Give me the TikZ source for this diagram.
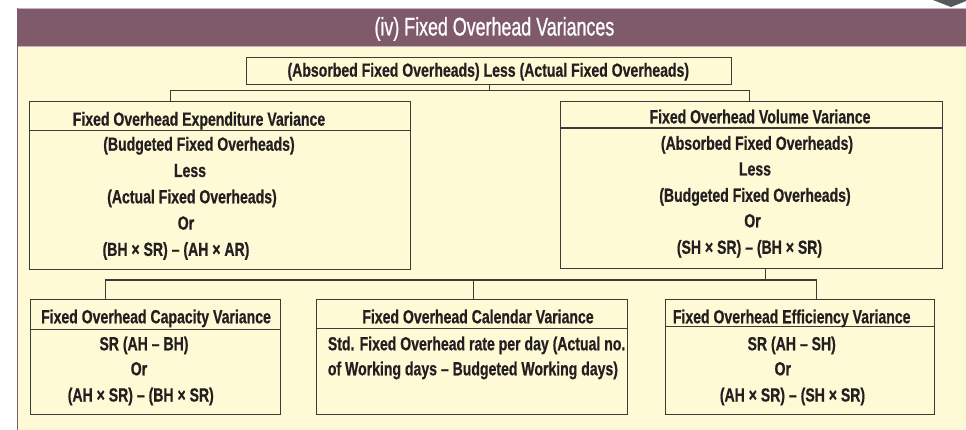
\documentclass[tikz,border=0pt]{standalone}
\usepackage{fontspec}
\newfontfamily\bodyfont{Liberation Sans Bold}[FakeStretch=0.74, FakeBold=0.6]
\newfontfamily\headfont{Liberation Sans}[FakeStretch=0.70, FakeBold=0.8]
\definecolor{headc}{HTML}{7F5A6B}
\definecolor{headedge}{HTML}{C9B0BC}
\definecolor{bgc}{HTML}{FFFAD6}
\definecolor{linec}{HTML}{3D3B37}
\definecolor{textc}{HTML}{231F20}
\definecolor{tabc}{HTML}{58585A}
\tikzset{
  box/.style={draw=linec, line width=1.1pt, rectangle, inner sep=0pt, anchor=north west},
  divider/.style={draw=linec, line width=1.1pt},
  conn/.style={draw=linec, line width=1.1pt},
  txt/.style={font=\bodyfont\fontsize{19}{22}\selectfont, text=textc, inner sep=0pt, anchor=base},
  ltxt/.style={txt, anchor=base west},
  headtxt/.style={font=\headfont\fontsize{25.5}{28}\selectfont, text=white, inner sep=0pt, anchor=base}
}
\begin{document}
\begin{tikzpicture}[x=1pt,y=-1pt]
\useasboundingbox (0,0) rectangle (966,430);
\fill[white] (0,0) rectangle (966,430);
% top-right tab
\fill[tabc] (933,0) -- (966,0) -- (966,1) -- (951,7) -- cycle;
% header and panel
\fill[headc] (17,8.3) rectangle (966,46.7);
\draw[headedge, line width=0.8pt] (17,8.6) -- (966,8.6);
\draw[headedge, line width=0.8pt] (17,46.4) -- (966,46.4);
\fill[bgc] (17,47) rectangle (966,430);
\draw[headc, line width=1.5pt] (17.5,8.3) -- (17.5,430);
\node[headtxt] (head) at (494.4,35.5) {(iv) Fixed Overhead Variances};

% boxes
\node[box, minimum width=485pt, minimum height=27pt] (T) at (246,57) {};
\node[box, minimum width=381pt, minimum height=168pt] (L) at (29,101) {};
\node[box, minimum width=381.7pt, minimum height=167.3pt] (R) at (560,101) {};
\node[box, minimum width=250pt, minimum height=114.7pt] (C1) at (30,299.3) {};
\node[box, minimum width=311.3pt, minimum height=114.7pt] (C2) at (315.7,299.3) {};
\node[box, minimum width=269pt, minimum height=114.7pt] (C3) at (665.3,299.3) {};

% dividers
\draw[divider] ([yshift=-29.7pt]L.north west) -- ([yshift=-29.7pt]L.north east);
\draw[divider] ([yshift=-27pt]R.north west) -- ([yshift=-27pt]R.north east);
\draw[divider] ([yshift=-30pt]C1.north west) -- ([yshift=-30pt]C1.north east);
\draw[divider] ([yshift=-29pt]C2.north west) -- ([yshift=-29pt]C2.north east);
\draw[divider] ([yshift=-27.4pt]C3.north west) -- ([yshift=-27.4pt]C3.north east);

% connectors
\coordinate (b1) at (0,90.7);
\coordinate (b2) at (0,280);
\draw[conn] (T.south) -- (T.south |- b1);
\draw[conn] ([xshift=-49.5pt]L.north) |- ([xshift=-2pt]R.north |- b1) -- ([xshift=-2pt]R.north);
\draw[conn] ([xshift=14pt]R.south) -- ([xshift=14pt]R.south |- b2);
\draw[conn] ([xshift=-50pt]C1.north) |- ([xshift=15.7pt]C3.north |- b2) -- ([xshift=15.7pt]C3.north);
\draw[conn] ([xshift=1.6pt]C2.north |- b2) -- ([xshift=1.6pt]C2.north);

% texts
\node[txt] (Tt) at (488.3,76.7) {(Absorbed Fixed Overheads) Less (Actual Fixed Overheads)};

\node[txt] (Lt) at (199,125.7) {Fixed Overhead Expenditure Variance};
\node[txt] (L1) at (199,150.7) {(Budgeted Fixed Overheads)};
\node[txt] (L2) at (190,177) {Less};
\node[txt] (L3) at (192,203.3) {(Actual Fixed Overheads)};
\node[txt] (L4) at (186,229.6) {Or};
\node[txt] (L5) at (176,255.9) {(BH × SR) – (AH × AR)};

\node[txt] (Rt) at (760,123.3) {Fixed Overhead Volume Variance};
\node[txt] (R1) at (757,149.8) {(Absorbed Fixed Overheads)};
\node[txt] (R2) at (755,175.5) {Less};
\node[txt] (R3) at (755,201.8) {(Budgeted Fixed Overheads)};
\node[txt] (R4) at (752.5,227.3) {Or};
\node[txt] (R5) at (749.5,253.8) {(SH × SR) – (BH × SR)};

\node[txt] (C1t) at (156,323.3) {Fixed Overhead Capacity Variance};
\node[txt] (C11) at (144,350.3) {SR (AH – BH)};
\node[txt] (C12) at (139,375.3) {Or};
\node[txt] (C13) at (140.8,401.5) {(AH × SR) – (BH × SR)};

\node[txt] (C2t) at (478,323.3) {Fixed Overhead Calendar Variance};
\node[ltxt] (C21) at (327.7,350.3) {Std. Fixed Overhead rate per day (Actual no.};
\node[ltxt] (C22) at (327.7,375.3) {of Working days – Budgeted Working days)};

\node[txt] (C3t) at (791.7,323.3) {Fixed Overhead Efficiency Variance};
\node[txt] (C31) at (791.7,350.3) {SR (AH – SH)};
\node[txt] (C32) at (782.8,375.3) {Or};
\node[txt] (C33) at (792.5,401.5) {(AH × SR) – (SH × SR)};
\end{tikzpicture}
\end{document}
